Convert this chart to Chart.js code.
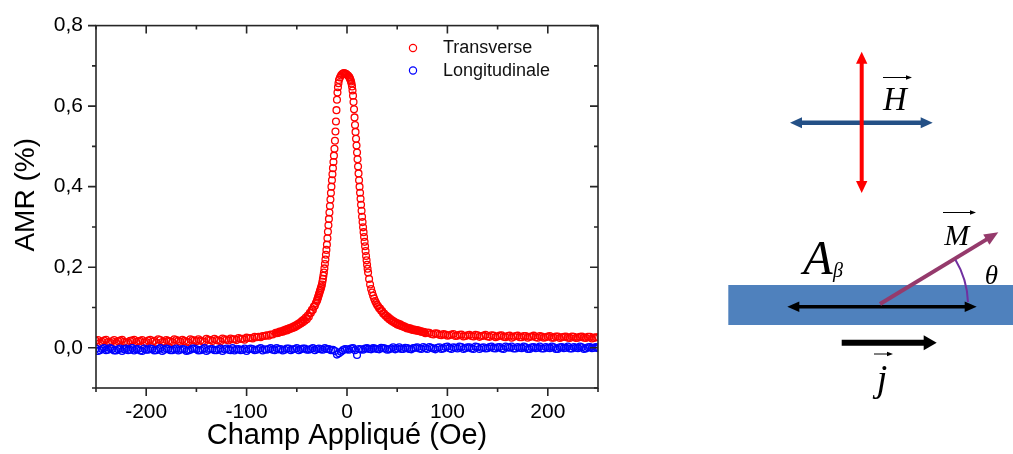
<!DOCTYPE html>
<html>
<head>
<meta charset="utf-8">
<title>AMR</title>
<script src="https://cdn.jsdelivr.net/npm/chart.js@4.4.1/dist/chart.umd.min.js"></script>
<style>
	html, body { margin: 0; padding: 0; background: #fff; }
	#wrap { width: 1013px; height: 454px; }
</style>
</head>
<body>
<div id="wrap"><canvas id="amr" width="1013" height="454"></canvas></div>
<script>
// Transverse : field (Oe) / AMR (%), first sweep then return sweep
var fieldT = [
	-250,-246,-242,-238,-234,-230,-226,-222,-218,-214,
	-210,-206,-202,-198,-194,-190,-186,-182,-178,-174,
	-170,-166,-162,-158,-154,-150,-146,-142,-138,-134,
	-130,-126,-122,-118,-114,-110,-106,-102,-98,-94,
	-90,-86,-82,-78,-74,
	-70,-68,-66,-64,-62,-60,-58,-56,-54,-52,
	-50,-48,-46,-44,-42,-40,-38,-36,-34,-32,
	-30,-29.5,-29,-28.5,-28,-27.5,-27,-26.5,-26,-25.5,
	-25,-24.5,-24,-23.5,-23,-22.5,-22,-21.5,-21,-20.5,
	-20,-19.5,-19,-18.5,-18,-17.5,-17,-16.5,-16,-15.5,
	-15,-14.5,-14,-13.5,-13,-12.5,-12,-11.5,-11,-10.5,
	-10,-9.5,-9,-8.5,-8,
	-7,-6,-5,-4,-3,-2,-1,0,1,2,
	2.5,3,3.5,4,4.5,5,5.5,6,6.5,7,
	7.5,8,8.5,9,9.5,10,10.5,11,11.5,12,
	12.5,13,13.5,14,14.5,15,15.5,16,16.5,17,
	17.5,18,18.5,19,19.5,20,20.5,21,
	22,23,24,25,26,27,28,29,30,
	32,34,36,38,40,42,44,46,48,50,
	52,54,56,58,60,62,64,66,68,70,
	72,74,76,
	80,84,88,92,96,100,104,108,112,116,
	120,124,128,132,136,140,144,148,152,156,
	160,164,168,172,176,180,184,188,192,196,
	200,204,208,212,216,220,224,228,232,236,
	240,244,248,
	// return sweep
	-248,-244,-240,-236,-232,-228,-224,-220,-216,-212,
	-208,-204,-200,-196,-192,-188,-184,-180,-176,-172,
	-168,-164,-160,-156,-152,-148,-144,-140,-136,-132,
	-128,-124,-120,-116,-112,-108,-104,-100,-96,-92,
	-88,-84,-80,-76,
	-71,-69,-67,-65,-63,-61,-59,-57,-55,-53,
	-51,-49,-47,-45,-43,-41,-39,-37,-35,-33,
	-31,
	31,33,35,37,39,41,43,45,47,49,
	51,53,55,57,59,61,63,65,67,69,
	71,73,75,77,
	78,82,86,90,94,98,102,106,110,114,
	118,122,126,130,134,138,142,146,150,154,
	158,162,166,170,174,178,182,186,190,194,
	198,202,206,210,214,218,222,226,230,234,
	238,242,246,250
];
var amrT = [
	0.017,0.012,0.018,0.014,0.016,0.012,0.018,0.015,0.013,0.018,
	0.014,0.017,0.013,0.018,0.015,0.013,0.019,0.015,0.017,0.014,
	0.019,0.015,0.017,0.014,0.019,0.016,0.018,0.015,0.020,0.017,
	0.019,0.016,0.021,0.018,0.021,0.019,0.022,0.020,0.024,0.023,
	0.026,0.026,0.029,0.030,0.033,
	0.036,0.037,0.039,0.040,0.042,0.043,0.045,0.047,0.049,0.051,
	0.054,0.057,0.060,0.063,0.067,0.071,0.077,0.086,0.094,0.104,
	0.116,0.120,0.124,0.128,0.132,0.136,0.140,0.144,0.148,0.152,
	0.157,0.164,0.171,0.179,0.187,0.197,0.208,0.219,0.231,0.243,
	0.256,0.272,0.288,0.304,0.320,0.336,0.352,0.368,0.384,0.400,
	0.416,0.431,0.446,0.461,0.477,0.494,0.514,0.537,0.562,0.590,
	0.616,0.634,0.647,0.657,0.665,
	0.671,0.676,0.679,0.681,0.682,0.681,0.680,0.678,0.676,0.673,
	0.671,0.668,0.665,0.661,0.656,0.649,0.639,0.626,0.610,0.592,
	0.572,0.553,0.536,0.519,0.502,0.485,0.468,0.450,0.433,0.416,
	0.400,0.385,0.370,0.355,0.340,0.325,0.312,0.299,0.287,0.275,
	0.263,0.252,0.240,0.228,0.217,0.206,0.196,0.187,
	0.171,0.157,0.146,0.137,0.129,0.122,0.116,0.111,0.106,
	0.098,0.092,0.085,0.080,0.075,0.071,0.067,0.064,0.061,0.058,
	0.056,0.054,0.052,0.050,0.048,0.047,0.045,0.044,0.043,0.042,
	0.041,0.040,0.039,
	0.038,0.034,0.036,0.032,0.034,0.030,0.033,0.029,0.032,0.028,
	0.031,0.029,0.032,0.027,0.030,0.028,0.031,0.026,0.030,0.027,
	0.029,0.025,0.029,0.026,0.029,0.025,0.028,0.026,0.029,0.025,
	0.028,0.025,0.028,0.024,0.027,0.025,0.028,0.024,0.027,0.025,
	0.027,0.023,0.026,
	// return sweep
	0.019,0.015,0.020,0.013,0.019,0.016,0.020,0.013,0.017,0.020,
	0.016,0.019,0.014,0.020,0.017,0.021,0.014,0.019,0.016,0.021,
	0.017,0.020,0.015,0.021,0.018,0.021,0.016,0.022,0.019,0.022,
	0.018,0.023,0.020,0.023,0.021,0.024,0.022,0.025,0.024,0.027,
	0.027,0.029,0.031,0.033,
	0.037,0.038,0.040,0.041,0.043,0.045,0.047,0.049,0.051,0.053,
	0.056,0.059,0.062,0.066,0.070,0.075,0.080,0.087,0.094,0.102,
	0.111,
	0.103,0.097,0.091,0.085,0.080,0.076,0.072,0.068,0.065,0.062,
	0.060,0.058,0.055,0.053,0.051,0.049,0.048,0.046,0.045,0.044,
	0.043,0.041,0.040,0.039,
	0.036,0.037,0.033,0.035,0.031,0.033,0.031,0.034,0.030,0.033,
	0.029,0.032,0.028,0.031,0.029,0.032,0.027,0.030,0.028,0.031,
	0.026,0.030,0.027,0.030,0.026,0.029,0.027,0.030,0.025,0.028,
	0.026,0.029,0.025,0.028,0.026,0.028,0.024,0.027,0.025,0.028,
	0.024,0.027,0.025,0.026
];

// Longitudinale : field (Oe) / AMR (%), first sweep then return sweep
var fieldL = [
	-250,-246,-242,-238,-234,-230,-226,-222,-218,-214,
	-210,-206,-202,-198,-194,-190,-186,-182,-178,-174,
	-170,-166,-162,-158,-154,-150,-146,-142,-138,-134,
	-130,-126,-122,-118,-114,-110,-106,-102,-98,-94,
	-90,-86,-82,-78,-74,-70,-66,-62,-58,-54,
	-50,-46,-42,-38,-34,-30,-26,-22,-18,-14,
	-10,-6,-2,2,6,10,14,18,22,26,
	30,34,38,42,46,50,54,58,62,66,
	70,74,78,82,86,90,94,98,102,106,
	110,114,118,122,126,130,134,138,142,146,
	150,154,158,162,166,170,174,178,182,186,
	190,194,198,202,206,210,214,218,222,226,
	230,234,238,242,246,250,
	// return sweep
	-248,-244,-240,-236,-232,-228,-224,-220,-216,-212,
	-208,-204,-200,-196,-192,-188,-184,-180,-176,-172,
	-168,-164,-160,-156,-152,-148,-144,-140,-136,-132,
	-128,-124,-120,-116,-112,-108,-104,-100,-96,-92,
	-88,-84,-80,-76,-72,-68,-64,-60,-56,-52,
	-48,-44,-40,-36,-32,-28,-24,-20,-16,-12,
	-8,-4,0,4,8,12,16,20,24,28,
	32,36,40,44,48,52,56,60,64,68,
	72,76,80,84,88,92,96,100,104,108,
	112,116,120,124,128,132,136,140,144,148,
	152,156,160,164,168,172,176,180,184,188,
	192,196,200,204,208,212,216,220,224,228,
	232,236,240,244,248
];
var amrL = [
	-0.002,-0.006,-0.001,-0.005,-0.003,-0.007,-0.002,-0.004,-0.006,-0.001,
	-0.004,-0.007,-0.002,-0.005,-0.003,-0.006,-0.001,-0.005,-0.003,-0.006,
	-0.002,-0.005,-0.004,-0.007,-0.002,-0.004,-0.006,-0.001,-0.005,-0.003,
	-0.006,-0.002,-0.004,-0.005,-0.001,-0.004,-0.006,-0.002,-0.004,-0.003,
	-0.005,-0.001,-0.004,-0.003,-0.005,-0.001,-0.003,-0.005,-0.002,-0.004,
	-0.001,-0.004,-0.002,-0.005,-0.001,-0.003,-0.004,-0.001,-0.003,-0.005,
	-0.017,-0.010,-0.003,-0.005,-0.001,-0.018,-0.004,-0.002,-0.003,-0.001,
	-0.003,0.000,-0.002,-0.004,0.001,-0.002,-0.003,0.000,-0.003,-0.001,
	0.001,-0.003,-0.001,0.002,-0.002,0.000,-0.003,0.002,-0.001,0.001,
	-0.002,0.002,-0.001,0.001,-0.003,0.002,0.000,-0.002,0.002,-0.001,
	0.001,-0.002,0.003,0.000,-0.002,0.002,-0.001,0.001,-0.003,0.002,
	0.000,-0.002,0.002,-0.001,0.001,-0.003,0.002,0.000,-0.002,0.002,
	-0.001,0.001,-0.002,0.002,0.000,-0.001,
	// return sweep
	-0.008,-0.003,-0.006,-0.001,-0.007,-0.004,-0.008,-0.002,-0.005,-0.007,
	-0.003,-0.008,-0.005,-0.002,-0.007,-0.004,-0.008,-0.002,-0.006,-0.004,
	-0.007,-0.003,-0.008,-0.005,-0.002,-0.007,-0.004,-0.008,-0.003,-0.006,
	-0.004,-0.008,-0.002,-0.006,-0.007,-0.003,-0.005,-0.008,-0.002,-0.006,
	-0.003,-0.007,-0.005,-0.001,-0.006,-0.004,-0.007,-0.002,-0.006,-0.003,
	-0.006,-0.002,-0.005,-0.003,-0.006,-0.002,-0.005,-0.003,-0.006,-0.008,
	-0.014,-0.006,-0.004,-0.002,-0.006,-0.003,-0.005,-0.001,-0.004,-0.002,
	-0.004,-0.001,-0.005,-0.002,-0.004,0.001,-0.003,-0.001,-0.004,0.000,
	-0.002,0.002,-0.003,0.000,-0.004,0.001,-0.002,0.003,-0.003,0.000,
	0.003,-0.003,0.001,-0.002,0.003,-0.003,0.001,-0.001,0.003,-0.002,
	0.002,-0.003,0.001,0.003,-0.002,0.000,0.003,-0.003,0.001,-0.001,
	0.003,-0.002,0.000,0.003,-0.003,0.001,-0.001,0.003,-0.002,0.000,
	0.003,-0.003,0.001,-0.001,0.002
];

var xTicks = { min: -250, max: 250, step: 50, labelEvery: 100 };
var yTicks = { min: -0.1, max: 0.8, step: 0.1 };
var yTitle = "AMR (%)";
var xTitle = "Champ Appliqué (Oe)";

var AXIS_COLOR = "#262626";
var SANS = '"Liberation Sans", Arial, sans-serif';
var SERIF = '"Liberation Serif", "Times New Roman", serif';

function toPoints(xs, ys) {
	return xs.map(function(x, i) { return { x: x, y: ys[i] }; });
}

function isMajorY(v) {
	return Math.round(v * 10) % 2 === 0;
}

// frame with outward ticks on bottom/left, inward on top/right
function drawFrame(chart) {
	var ctx = chart.ctx;
	var a = chart.chartArea;
	var xs = chart.scales.x, ys = chart.scales.y;
	ctx.save();
	ctx.strokeStyle = AXIS_COLOR;
	ctx.lineWidth = 1.6;
	ctx.strokeRect(a.left, a.top, a.right - a.left, a.bottom - a.top);
	ctx.beginPath();
	xs.ticks.forEach(function(t) {
		var px = xs.getPixelForValue(t.value);
		var len = (Math.round(t.value) % xTicks.labelEvery === 0) ? 8 : 4;
		ctx.moveTo(px, a.bottom); ctx.lineTo(px, a.bottom + len);
		ctx.moveTo(px, a.top); ctx.lineTo(px, a.top + len);
	});
	ys.ticks.forEach(function(t) {
		var py = ys.getPixelForValue(t.value);
		var len = isMajorY(t.value) ? 8 : 4;
		ctx.moveTo(a.left, py); ctx.lineTo(a.left - len, py);
		ctx.moveTo(a.right, py); ctx.lineTo(a.right - len, py);
	});
	ctx.stroke();

	// y title sits a little above the middle of the axis
	ctx.save();
	ctx.translate(26, (a.top + a.bottom) / 2 - 12);
	ctx.rotate(-Math.PI / 2);
	ctx.font = "28px " + SANS;
	ctx.fillStyle = "#000";
	ctx.textAlign = "center";
	ctx.textBaseline = "middle";
	ctx.fillText(yTitle, 0, 0);
	ctx.restore();

	// legend inside the plot
	var items = chart.data.datasets.slice().sort(function(p, q) { return p.legendRank - q.legendRank; });
	ctx.font = "18px " + SANS;
	ctx.textBaseline = "middle";
	ctx.textAlign = "left";
	items.forEach(function(ds, i) {
		var y = 48 + i * 22.5;
		ctx.beginPath();
		ctx.lineWidth = 1.2;
		ctx.strokeStyle = ds.borderColor;
		ctx.arc(413, y, 3.6, 0, Math.PI * 2);
		ctx.stroke();
		ctx.fillStyle = "#111";
		ctx.fillText(ds.label, 443, y + 0.5);
	});
	ctx.restore();
}

function arrowHead(ctx, x1, y1, x2, y2, len, half) {
	var ang = Math.atan2(y2 - y1, x2 - x1);
	var c = Math.cos(ang), s = Math.sin(ang);
	ctx.beginPath();
	ctx.moveTo(x2, y2);
	ctx.lineTo(x2 - len * c + half * s, y2 - len * s - half * c);
	ctx.lineTo(x2 - len * c - half * s, y2 - len * s + half * c);
	ctx.closePath();
	ctx.fill();
}

function arrow(ctx, x1, y1, x2, y2, o) {
	var ang = Math.atan2(y2 - y1, x2 - x1);
	var c = Math.cos(ang), s = Math.sin(ang);
	var back = o.len * 0.8;
	ctx.strokeStyle = o.color;
	ctx.fillStyle = o.color;
	ctx.lineWidth = o.width;
	ctx.lineCap = "butt";
	ctx.beginPath();
	ctx.moveTo(o.both ? x1 + c * back : x1, o.both ? y1 + s * back : y1);
	ctx.lineTo(x2 - c * back, y2 - s * back);
	ctx.stroke();
	arrowHead(ctx, x1, y1, x2, y2, o.len, o.half);
	if (o.both) arrowHead(ctx, x2, y2, x1, y1, o.len, o.half);
}

function vecText(ctx, txt, size, cx, base, ax1, ax2, ay) {
	ctx.fillStyle = "#000";
	ctx.font = "italic " + size + "px " + SERIF;
	ctx.textAlign = "center";
	ctx.textBaseline = "alphabetic";
	ctx.fillText(txt, cx, base);
	arrow(ctx, ax1, ay, ax2, ay, { color: "#000", width: 1, len: 6, half: 2.2 });
}

// field / magnetisation sketch on the right
function drawSketch(chart) {
	var ctx = chart.ctx;
	ctx.save();
	arrow(ctx, 790, 122.7, 932.7, 122.7, { color: "#245086", width: 4.5, len: 12, half: 5.5, both: true });
	arrow(ctx, 861.7, 51.7, 861.7, 193, { color: "#ff0000", width: 4, len: 12, half: 5.7, both: true });
	vecText(ctx, "H", 33, 895, 110, 883, 912, 77.5);

	ctx.fillStyle = "#4f81bd";
	ctx.fillRect(728.3, 285, 1013 - 728.3, 40);
	arrow(ctx, 787.3, 306.7, 976.7, 306.7, { color: "#000", width: 3.5, len: 12, half: 5.3, both: true });
	arrow(ctx, 880, 304, 998.3, 232.3, { color: "#953a6c", width: 4, len: 14, half: 6 });

	ctx.strokeStyle = "#7030a0";
	ctx.lineWidth = 2;
	ctx.beginPath();
	ctx.arc(880, 305, 88, -31 * Math.PI / 180, -2 * Math.PI / 180);
	ctx.stroke();

	vecText(ctx, "M", 30, 956.7, 245, 943, 976, 212.5);

	ctx.fillStyle = "#000";
	ctx.textAlign = "center";
	ctx.font = "italic 48px " + SERIF;
	ctx.fillText("A", 818, 274);
	ctx.textAlign = "left";
	ctx.font = "italic 20px " + SERIF;
	ctx.fillText("\u03b2", 833, 277);
	ctx.textAlign = "center";
	ctx.font = "italic 27px " + SERIF;
	ctx.fillText("\u03b8", 991.5, 284);

	arrow(ctx, 841.7, 342.7, 936.7, 342.7, { color: "#000", width: 6, len: 13, half: 7.5 });
	vecText(ctx, "j", 38, 882, 391, 874, 893, 354);
	ctx.restore();
}

var framePlugin = {
	id: "frame",
	afterDatasetsDraw: function(chart) { drawFrame(chart); },
	afterDraw: function(chart) { drawSketch(chart); }
};

Chart.defaults.color = "#000";
Chart.defaults.font.family = SANS;

var ctx = document.getElementById("amr").getContext("2d");
var chart = new Chart(ctx, {
	type: "scatter",
	data: {
		datasets: [{
			label: "Transverse",
			data: toPoints(fieldT, amrT),
			borderColor: "#ff0000",
			backgroundColor: "rgba(0,0,0,0)",
			pointRadius: 3.4,
			pointBorderWidth: 1.3,
			order: 2,
			legendRank: 0
		}, {
			label: "Longitudinale",
			data: toPoints(fieldL, amrL),
			borderColor: "#0000ff",
			backgroundColor: "rgba(0,0,0,0)",
			pointRadius: 3.4,
			pointBorderWidth: 1.3,
			order: 1,
			legendRank: 1
		}]
	},
	options: {
		responsive: false,
		animation: false,
		events: [],
		layout: { padding: { left: 0, right: 415, top: 15, bottom: 0 } },
		plugins: {
			legend: { display: false },
			tooltip: { enabled: false }
		},
		scales: {
			x: {
				type: "linear",
				min: xTicks.min,
				max: xTicks.max,
				afterFit: function(s) { s.height = 66; },
				grid: { display: false, drawTicks: false },
				border: { display: false },
				ticks: {
					stepSize: xTicks.step,
					autoSkip: false,
					maxRotation: 0,
					padding: 12,
					font: { size: 21 },
					callback: function(v) { return (Math.round(v) % xTicks.labelEvery === 0) ? String(v) : ""; }
				},
				title: {
					display: true,
					text: xTitle,
					font: { size: 29 },
					padding: { top: 0, bottom: 1 }
				}
			},
			y: {
				min: yTicks.min,
				max: yTicks.max,
				afterFit: function(s) { s.width = 96; },
				grid: { display: false, drawTicks: false },
				border: { display: false },
				ticks: {
					stepSize: yTicks.step,
					autoSkip: false,
					padding: 13,
					font: { size: 21 },
					callback: function(v) {
						return isMajorY(v) ? (Math.round(v * 10) / 10).toFixed(1).replace(".", ",") : "";
					}
				},
				title: { display: false }
			}
		}
	},
	plugins: [framePlugin]
});
</script>
</body>
</html>
